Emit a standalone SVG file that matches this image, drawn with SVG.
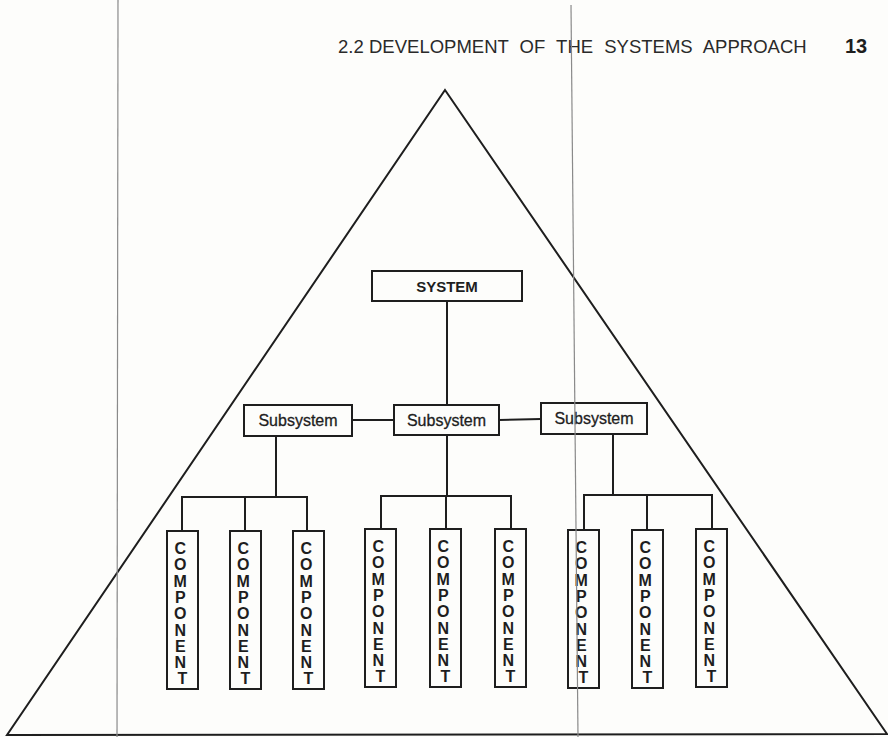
<svg xmlns="http://www.w3.org/2000/svg" width="888" height="737" viewBox="0 0 888 737">
  <style>
    .ln { stroke: #1e1e1e; stroke-width: 2; fill: none; }
    .box { stroke: #1e1e1e; stroke-width: 2; fill: #fdfdfb; }
    .rule { stroke: #8a8a8a; stroke-width: 1.2; fill: none; }
    .hdr { font-family: "Liberation Sans", Arial, sans-serif; font-size: 18.5px; fill: #2a2a2a; }
    .sys { font-family: "Liberation Sans", Arial, sans-serif; font-size: 15px; font-weight: bold; fill: #1e1e1e; text-anchor: middle; }
    .sub { font-family: "Liberation Sans", Arial, sans-serif; font-size: 16px; fill: #1e1e1e; stroke: #1e1e1e; stroke-width: 0.3; text-anchor: middle; }
    .cmp { font-family: "Liberation Sans", Arial, sans-serif; font-size: 16px; font-weight: bold; fill: #1e1e1e; text-anchor: middle; }
  </style>
  <defs>
    <g id="comp">
      <rect class="box" x="0" y="0" width="31" height="158"/>
      <text class="cmp" x="15.5" y="0">
        <tspan x="15.5" dy="23">C</tspan>
        <tspan x="15.5" dy="16.3">O</tspan>
        <tspan x="15.5" dy="16.3">M</tspan>
        <tspan x="15.5" dy="16.3">P</tspan>
        <tspan x="15.5" dy="16.3">O</tspan>
        <tspan x="15.5" dy="16.3">N</tspan>
        <tspan x="15.5" dy="16.3">E</tspan>
        <tspan x="15.5" dy="16.3">N</tspan>
        <tspan x="15.5" dy="16.3">T</tspan>
      </text>
    </g>
  </defs>

  <rect x="0" y="0" width="888" height="737" fill="#fdfdfb"/>

  <!-- running header -->
  <text class="hdr" x="338" y="53">2.2</text>
  <text class="hdr" x="369" y="53" word-spacing="6">DEVELOPMENT OF THE SYSTEMS APPROACH</text>
  <text class="hdr" x="845" y="53" style="font-size:20px;font-weight:bold;fill:#1e1e1e">13</text>

  <!-- enclosing triangle -->
  <polygon class="ln" points="445,90 887,734 7,735"/>

  <!-- connectors -->
  <g id="connectors">
    <line class="ln" x1="447" y1="301" x2="447" y2="405"/>
    <line class="ln" x1="352" y1="420" x2="394" y2="420"/>
    <line class="ln" x1="499" y1="420" x2="541" y2="419"/>
    <!-- left group -->
    <polyline class="ln" points="276,436 276,497"/>
    <polyline class="ln" points="182,531 182,497 307,497 307,531"/>
    <line class="ln" x1="245" y1="497" x2="245" y2="531"/>
    <!-- middle group -->
    <polyline class="ln" points="447,435 447,496"/>
    <polyline class="ln" points="381,529 381,496 511,496 511,529"/>
    <line class="ln" x1="446" y1="496" x2="446" y2="529"/>
    <!-- right group -->
    <polyline class="ln" points="613,434 613,495"/>
    <polyline class="ln" points="584,530 584,495 712,495 712,529"/>
    <line class="ln" x1="647" y1="495" x2="647" y2="530"/>
  </g>

  <g id="system">
    <rect class="box" x="372" y="271" width="150" height="30"/>
    <text class="sys" x="447" y="292">SYSTEM</text>
  </g>

  <g id="subsystem-left">
    <rect class="box" x="244" y="405" width="108" height="31"/>
    <text class="sub" x="298" y="426">Subsystem</text>
  </g>
  <g id="subsystem-middle">
    <rect class="box" x="394" y="405" width="105" height="30"/>
    <text class="sub" x="446.5" y="426">Subsystem</text>
  </g>
  <g id="subsystem-right">
    <rect class="box" x="541" y="403" width="106" height="31"/>
    <text class="sub" x="594" y="424">Subsystem</text>
  </g>

  <g id="component-1"><use href="#comp" x="167" y="531"/></g>
  <g id="component-2"><use href="#comp" x="230" y="531"/></g>
  <g id="component-3"><use href="#comp" x="293" y="531"/></g>
  <g id="component-4"><use href="#comp" x="365" y="529"/></g>
  <g id="component-5"><use href="#comp" x="430" y="529"/></g>
  <g id="component-6"><use href="#comp" x="495" y="529"/></g>
  <g id="component-7"><use href="#comp" x="568" y="530"/></g>
  <g id="component-8"><use href="#comp" x="632" y="530"/></g>
  <g id="component-9"><use href="#comp" x="696" y="529"/></g>

  <!-- page gutter rules -->
  <line class="rule" x1="118" y1="0" x2="117" y2="737"/>
  <line class="rule" x1="571" y1="5" x2="578" y2="737"/>
</svg>
